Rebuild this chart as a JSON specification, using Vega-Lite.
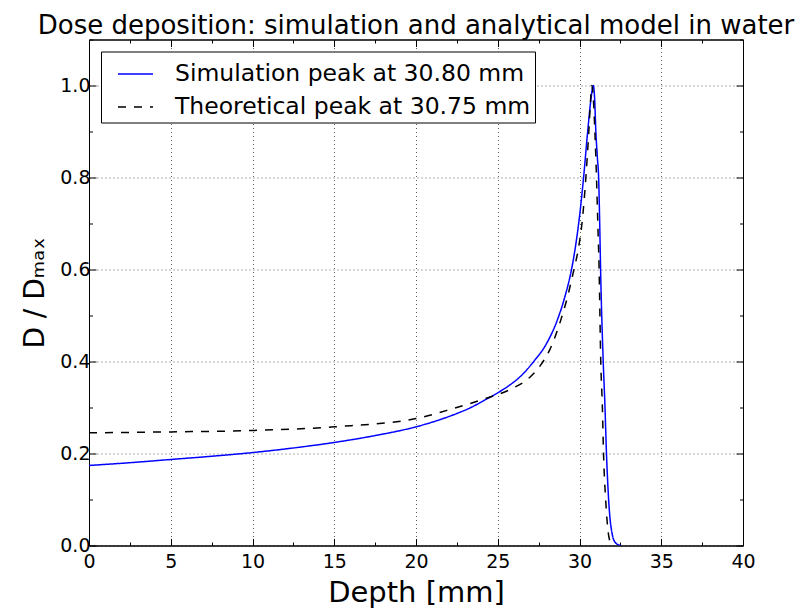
{
  "$schema": "https://vega.github.io/schema/vega-lite/v6.json",
  "width": 654,
  "height": 506,
  "autosize": {"type": "none"},
  "padding": {"left": 89, "top": 39.5, "right": 60, "bottom": 64.5},
  "background": "white",
  "title": {"text": "Dose deposition: simulation and analytical model in water", "fontSize": 26, "font": "DejaVu Sans", "fontWeight": "normal", "color": "black", "anchor": "middle", "offset": -8},
  "config": {
    "font": "DejaVu Sans",
    "view": {"stroke": "black", "strokeWidth": 1},
    "axis": {"domainColor": "black", "domainWidth": 1, "tickColor": "black", "tickWidth": 1, "labelColor": "black", "labelFont": "DejaVu Sans", "labelFontSize": 19, "titleColor": "black", "titleFont": "DejaVu Sans", "titleFontWeight": "normal", "gridColor": "black", "gridDash": [1, 3], "gridWidth": 1, "gridOpacity": 0.8, "labelFlush": false, "labelOverlap": false},
    "legend": {"orient": "top-left", "offset": 12, "padding": 4, "strokeColor": "black", "strokeWidth": 1, "fillColor": "white", "labelFontSize": 23.5, "labelFont": "DejaVu Sans", "labelColor": "black", "symbolType": "stroke", "symbolSize": 1225, "symbolStrokeWidth": 1.5, "labelOffset": 21, "rowPadding": 3, "symbolOffset": 12, "cornerRadius": 0, "labelLimit": 600}
  },
  "data": {"values": [
    {"depth": 0, "dose": 0.174, "series": "Simulation peak at 30.80 mm"},
    {"depth": 2.5, "dose": 0.180, "series": "Simulation peak at 30.80 mm"},
    {"depth": 5, "dose": 0.187, "series": "Simulation peak at 30.80 mm"},
    {"depth": 7.5, "dose": 0.194, "series": "Simulation peak at 30.80 mm"},
    {"depth": 10, "dose": 0.202, "series": "Simulation peak at 30.80 mm"},
    {"depth": 12.5, "dose": 0.212, "series": "Simulation peak at 30.80 mm"},
    {"depth": 15, "dose": 0.224, "series": "Simulation peak at 30.80 mm"},
    {"depth": 17.5, "dose": 0.239, "series": "Simulation peak at 30.80 mm"},
    {"depth": 20, "dose": 0.258, "series": "Simulation peak at 30.80 mm"},
    {"depth": 21.5, "dose": 0.274, "series": "Simulation peak at 30.80 mm"},
    {"depth": 22.5, "dose": 0.287, "series": "Simulation peak at 30.80 mm"},
    {"depth": 23.3, "dose": 0.299, "series": "Simulation peak at 30.80 mm"},
    {"depth": 24.3, "dose": 0.318, "series": "Simulation peak at 30.80 mm"},
    {"depth": 25, "dose": 0.332, "series": "Simulation peak at 30.80 mm"},
    {"depth": 25.7, "dose": 0.348, "series": "Simulation peak at 30.80 mm"},
    {"depth": 26.4, "dose": 0.368, "series": "Simulation peak at 30.80 mm"},
    {"depth": 27.2, "dose": 0.400, "series": "Simulation peak at 30.80 mm"},
    {"depth": 28, "dose": 0.440, "series": "Simulation peak at 30.80 mm"},
    {"depth": 28.6, "dose": 0.486, "series": "Simulation peak at 30.80 mm"},
    {"depth": 29.1, "dose": 0.540, "series": "Simulation peak at 30.80 mm"},
    {"depth": 29.5, "dose": 0.598, "series": "Simulation peak at 30.80 mm"},
    {"depth": 29.72, "dose": 0.642, "series": "Simulation peak at 30.80 mm"},
    {"depth": 30.0, "dose": 0.715, "series": "Simulation peak at 30.80 mm"},
    {"depth": 30.25, "dose": 0.800, "series": "Simulation peak at 30.80 mm"},
    {"depth": 30.5, "dose": 0.900, "series": "Simulation peak at 30.80 mm"},
    {"depth": 30.7, "dose": 0.970, "series": "Simulation peak at 30.80 mm"},
    {"depth": 30.84, "dose": 1.0, "series": "Simulation peak at 30.80 mm"},
    {"depth": 30.92, "dose": 0.975, "series": "Simulation peak at 30.80 mm"},
    {"depth": 31.0, "dose": 0.900, "series": "Simulation peak at 30.80 mm"},
    {"depth": 31.1, "dose": 0.840, "series": "Simulation peak at 30.80 mm"},
    {"depth": 31.17, "dose": 0.800, "series": "Simulation peak at 30.80 mm"},
    {"depth": 31.23, "dose": 0.710, "series": "Simulation peak at 30.80 mm"},
    {"depth": 31.29, "dose": 0.600, "series": "Simulation peak at 30.80 mm"},
    {"depth": 31.45, "dose": 0.400, "series": "Simulation peak at 30.80 mm"},
    {"depth": 31.55, "dose": 0.310, "series": "Simulation peak at 30.80 mm"},
    {"depth": 31.65, "dose": 0.200, "series": "Simulation peak at 30.80 mm"},
    {"depth": 31.75, "dose": 0.120, "series": "Simulation peak at 30.80 mm"},
    {"depth": 31.85, "dose": 0.065, "series": "Simulation peak at 30.80 mm"},
    {"depth": 31.95, "dose": 0.035, "series": "Simulation peak at 30.80 mm"},
    {"depth": 32.05, "dose": 0.017, "series": "Simulation peak at 30.80 mm"},
    {"depth": 32.2, "dose": 0.006, "series": "Simulation peak at 30.80 mm"},
    {"depth": 32.35, "dose": 0.002, "series": "Simulation peak at 30.80 mm"},
    {"depth": 32.55, "dose": 0.0, "series": "Simulation peak at 30.80 mm"},
    {"depth": 0, "dose": 0.245, "series": "Theoretical peak at 30.75 mm"},
    {"depth": 5, "dose": 0.247, "series": "Theoretical peak at 30.75 mm"},
    {"depth": 10, "dose": 0.250, "series": "Theoretical peak at 30.75 mm"},
    {"depth": 15, "dose": 0.258, "series": "Theoretical peak at 30.75 mm"},
    {"depth": 20, "dose": 0.276, "series": "Theoretical peak at 30.75 mm"},
    {"depth": 22.3, "dose": 0.298, "series": "Theoretical peak at 30.75 mm"},
    {"depth": 24.3, "dose": 0.320, "series": "Theoretical peak at 30.75 mm"},
    {"depth": 25.75, "dose": 0.339, "series": "Theoretical peak at 30.75 mm"},
    {"depth": 27.0, "dose": 0.367, "series": "Theoretical peak at 30.75 mm"},
    {"depth": 27.6, "dose": 0.391, "series": "Theoretical peak at 30.75 mm"},
    {"depth": 28.2, "dose": 0.427, "series": "Theoretical peak at 30.75 mm"},
    {"depth": 28.8, "dose": 0.484, "series": "Theoretical peak at 30.75 mm"},
    {"depth": 29.32, "dose": 0.548, "series": "Theoretical peak at 30.75 mm"},
    {"depth": 29.66, "dose": 0.600, "series": "Theoretical peak at 30.75 mm"},
    {"depth": 29.93, "dose": 0.645, "series": "Theoretical peak at 30.75 mm"},
    {"depth": 30.15, "dose": 0.700, "series": "Theoretical peak at 30.75 mm"},
    {"depth": 30.39, "dose": 0.800, "series": "Theoretical peak at 30.75 mm"},
    {"depth": 30.57, "dose": 0.900, "series": "Theoretical peak at 30.75 mm"},
    {"depth": 30.68, "dose": 0.970, "series": "Theoretical peak at 30.75 mm"},
    {"depth": 30.75, "dose": 1.0, "series": "Theoretical peak at 30.75 mm"},
    {"depth": 30.85, "dose": 0.970, "series": "Theoretical peak at 30.75 mm"},
    {"depth": 30.94, "dose": 0.900, "series": "Theoretical peak at 30.75 mm"},
    {"depth": 31.04, "dose": 0.800, "series": "Theoretical peak at 30.75 mm"},
    {"depth": 31.12, "dose": 0.700, "series": "Theoretical peak at 30.75 mm"},
    {"depth": 31.2, "dose": 0.600, "series": "Theoretical peak at 30.75 mm"},
    {"depth": 31.3, "dose": 0.400, "series": "Theoretical peak at 30.75 mm"},
    {"depth": 31.4, "dose": 0.300, "series": "Theoretical peak at 30.75 mm"},
    {"depth": 31.47, "dose": 0.200, "series": "Theoretical peak at 30.75 mm"},
    {"depth": 31.6, "dose": 0.100, "series": "Theoretical peak at 30.75 mm"},
    {"depth": 31.75, "dose": 0.030, "series": "Theoretical peak at 30.75 mm"},
    {"depth": 31.85, "dose": 0.010, "series": "Theoretical peak at 30.75 mm"},
    {"depth": 31.95, "dose": 0.0, "series": "Theoretical peak at 30.75 mm"}
  ]},
  "layer": [
    {
      "transform": [{"filter": "datum.series == 'Simulation peak at 30.80 mm'"}],
      "mark": {"type": "line", "strokeWidth": 1.5, "clip": true, "interpolate": "monotone"},
      "encoding": {
        "x": {"field": "depth", "type": "quantitative", "scale": {"domain": [0, 40], "nice": false},
          "axis": {"orient": "bottom", "title": "Depth [mm]", "titleFontSize": 29, "titlePadding": 3,
            "values": [0, 2.5, 5, 7.5, 10, 12.5, 15, 17.5, 20, 22.5, 25, 27.5, 30, 32.5, 35, 37.5, 40],
            "labelExpr": "datum.value % 5 == 0 ? format(datum.value, 'd') : ''",
            "grid": true,
            "gridOpacity": {"condition": {"test": "datum.value % 5 == 0", "value": 0.8}, "value": 0},
            "tickSize": {"condition": {"test": "datum.value % 5 == 0", "value": -7}, "value": -3.5},
            "labelPadding": 14}},
        "y": {"field": "dose", "type": "quantitative", "scale": {"domain": [0, 1.1], "nice": false},
          "axis": {"orient": "left", "title": "D / Dₘₐₓ", "titleFontSize": 28, "titlePadding": 10,
            "values": [0, 0.1, 0.2, 0.3, 0.4, 0.5, 0.6, 0.7, 0.8, 0.9, 1.0, 1.1],
            "labelExpr": "abs(datum.value * 5 - round(datum.value * 5)) < 0.001 && datum.value < 1.05 ? format(datum.value, '.1f') : ''",
            "grid": true,
            "gridOpacity": {"condition": {"test": "abs(datum.value * 5 - round(datum.value * 5)) < 0.001", "value": 0.8}, "value": 0},
            "tickSize": {"condition": {"test": "abs(datum.value * 5 - round(datum.value * 5)) < 0.001", "value": -7}, "value": -3.5},
            "labelPadding": 6}},
        "color": {"field": "series", "type": "nominal", "title": null,
          "scale": {"domain": ["Simulation peak at 30.80 mm", "Theoretical peak at 30.75 mm"], "range": ["#0000ff", "#000000"]}},
        "strokeDash": {"field": "series", "type": "nominal", "title": null,
          "scale": {"domain": ["Simulation peak at 30.80 mm", "Theoretical peak at 30.75 mm"], "range": [[1, 0], [8, 8]]}}
      }
    },
    {
      "transform": [{"filter": "datum.series == 'Theoretical peak at 30.75 mm'"}],
      "mark": {"type": "line", "strokeWidth": 1.5, "clip": true, "interpolate": "monotone"},
      "encoding": {
        "x": {"field": "depth", "type": "quantitative",
          "axis": {"orient": "top", "title": null, "labels": false, "grid": false,
            "values": [0, 2.5, 5, 7.5, 10, 12.5, 15, 17.5, 20, 22.5, 25, 27.5, 30, 32.5, 35, 37.5, 40],
            "tickSize": {"condition": {"test": "datum.value % 5 == 0", "value": -7}, "value": -3.5}}},
        "y": {"field": "dose", "type": "quantitative",
          "axis": {"orient": "right", "title": null, "labels": false, "grid": false,
            "values": [0, 0.1, 0.2, 0.3, 0.4, 0.5, 0.6, 0.7, 0.8, 0.9, 1.0, 1.1],
            "tickSize": {"condition": {"test": "abs(datum.value * 5 - round(datum.value * 5)) < 0.001", "value": -7}, "value": -3.5}}},
        "color": {"field": "series", "type": "nominal"},
        "strokeDash": {"field": "series", "type": "nominal"}
      }
    }
  ],
  "resolve": {"axis": {"x": "independent", "y": "independent"}}
}
